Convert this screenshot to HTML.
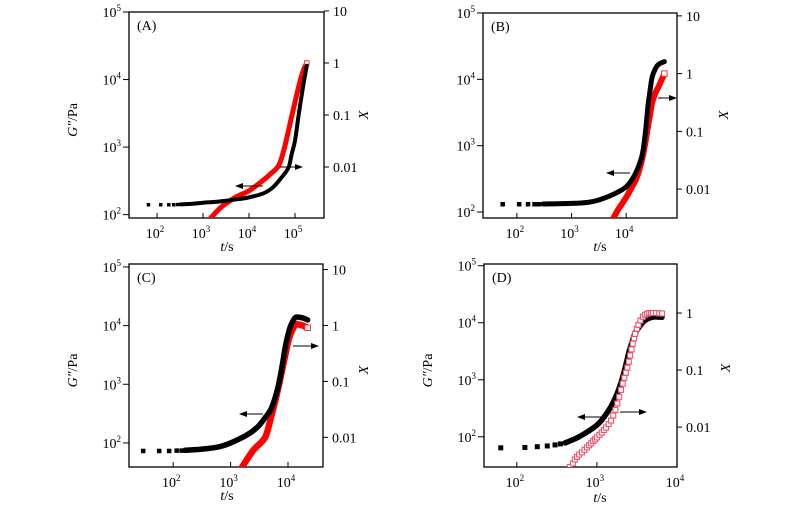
<!DOCTYPE html>
<html><head><meta charset="utf-8"><style>
html,body{margin:0;padding:0;background:#fff;}
svg{display:block;font-family:"Liberation Serif",serif;}
</style></head><body>
<svg id="fig" width="800" height="515" viewBox="0 0 800 515" xmlns="http://www.w3.org/2000/svg"></svg>
<script>
// ---- Data (t in s, G'' in Pa, X dimensionless) ----
const aBlackT = [65,120,180,230,280,330,600,1000,2000,3000,6000,10000,20000,30000,40000,50000,62000,74000,85000,100000,120000,150000,180000];
const aBlackG = [140,140,140,140,141,142,145,150,155,160,170,180,205,240,290,350,420,520,800,1250,3000,8000,16000];
const aRedT = [1400,2500,5000,10000,20000,30000,45000,60000,86000,120000,150000,180000];
const aRedX = [0.001,0.0017,0.0026,0.0035,0.0055,0.0075,0.011,0.025,0.1,0.35,0.7,1.0];

const bBlackT = [55,110,160,210,250,300,1000,2000,3000,5000,7500,10000,12500,15000,17500,20000,22500,25000,27500,30000,35000,40000,50000];
const bBlackG = [131,131,131,131,131,132,135,140,150,175,205,240,300,390,530,780,1600,3900,7000,11000,15000,17000,18500];
const bRedT = [5800,7000,10000,12500,15000,17500,20000,22500,25000,27500,30000,35000,40000,50000];
const bRedX = [0.0031,0.0043,0.0072,0.0105,0.0145,0.022,0.036,0.065,0.12,0.2,0.32,0.48,0.62,1.0];

const cBlackT = [30,57,85,115,140,160,300,600,1000,2000,3000,4000,5000,6000,7000,8000,9000,10000,11000,12500,14000,18000,22000];
const cBlackG = [73,73,73,74,74,75,78,85,100,140,190,270,370,600,1060,2200,4400,7000,9600,12500,14000,13500,12500];
const cRedT = [1600,2500,4000,5000,6000,7000,8000,9000,10000,11000,12500,14000,18000,22000];
const cRedX = [0.003,0.0059,0.01,0.022,0.045,0.089,0.17,0.3,0.5,0.69,0.92,1.05,1.0,0.91];

const dBlackT = [63,126,180,240,300,350,400,600,1000,1250,1500,1750,2000,2250,2500,2750,3000,3500,4000,5000,6500];
const dBlackG = [64,65,67,69,72,75,78,100,160,230,340,530,890,1600,3000,4600,6600,9000,11000,12600,12500];
const dRedT = [460,500,530,565,600,650,700,750,800,850,900,950,1000,1075,1150,1225,1300,1400,1500,1600,1700,1800,1900,2000,2100,2200,2300,2400,2500,2600,2700,2800,2900,3000,3150,3300,3500,3750,4000,4250,4500,4750,5000,5500,6000,6500];
const dRedX = [0.002,0.0023,0.0027,0.003,0.0033,0.0036,0.004,0.0044,0.0048,0.0052,0.0057,0.0061,0.0066,0.0073,0.008,0.0089,0.0098,0.0113,0.013,0.016,0.02,0.026,0.034,0.045,0.058,0.073,0.09,0.11,0.14,0.18,0.23,0.29,0.36,0.43,0.53,0.62,0.74,0.86,0.93,0.97,1.0,1.0,1.0,1.0,0.99,0.98];

const panelLabels = ["(A)","(B)","(C)","(D)"];

const NS = "http://www.w3.org/2000/svg";
const svg = document.getElementById("fig");
function mk(tag, attrs, parent){
  const e = document.createElementNS(NS, tag);
  for (const k in attrs) e.setAttribute(k, attrs[k]);
  (parent||svg).appendChild(e);
  return e;
}
const L = Math.log10;
function smoothPath(pts){
  if (pts.length<2) return "";
  let d = "M"+pts[0][0]+","+pts[0][1];
  for (let i=0;i<pts.length-1;i++){
    const p0=pts[Math.max(0,i-1)], p1=pts[i], p2=pts[i+1], p3=pts[Math.min(pts.length-1,i+2)];
    const c1=[p1[0]+(p2[0]-p0[0])/6, p1[1]+(p2[1]-p0[1])/6];
    const c2=[p2[0]-(p3[0]-p1[0])/6, p2[1]-(p3[1]-p1[1])/6];
    d += " C"+c1[0]+","+c1[1]+" "+c2[0]+","+c2[1]+" "+p2[0]+","+p2[1];
  }
  return d;
}

const panels = [
  {id:"a", label:panelLabels[0], box:[129,12,324,218], xr:[1.39,5.63], yl:[1.95,5.0], yr:[-2.98,0.98],
   xt:[2,3,4,5], ylt:[2,3,4,5], yrt:[-2,-1,0,1], bT:aBlackT,bG:aBlackG,rT:aRedT,rX:aRedX, ms:3.5, lw:4, dense:300, open:false,
   arrL:[[263,186],[236,186]], arrR:[[280,167],[302,167]], gl:true, xlab:[227,251], xrl:[368,115]},
  {id:"b", label:panelLabels[1], box:[483,13,677,218], xr:[1.38,4.93], yl:[1.91,5.0], yr:[-2.5,1.05],
   xt:[2,3,4], ylt:[2,3,4,5], yrt:[-2,-1,0,1], bT:bBlackT,bG:bBlackG,rT:bRedT,rX:bRedX, ms:4.5, lw:5, dense:280, open:false,
   arrL:[[630,173],[607,173]], arrR:[[658,98],[676,98]], gl:false, xlab:[600,251], xrl:[728,115]},
  {id:"c", label:panelLabels[2], box:[129,264,323,467], xr:[1.23,4.61], yl:[1.59,5.05], yr:[-2.53,1.1],
   xt:[2,3,4], ylt:[2,3,4,5], yrt:[-2,-1,0,1], bT:cBlackT,bG:cBlackG,rT:cRedT,rX:cRedX, ms:4.5, lw:5.5, dense:150, open:false,
   arrL:[[263,414],[240,414]], arrR:[[293,346],[318,346]], gl:true, xlab:[227,500], xrl:[368,370]},
  {id:"d", label:panelLabels[3], box:[484,264,677,467], xr:[1.59,4.0], yl:[1.47,5.03], yr:[-2.7,0.86],
   xt:[2,3,4], ylt:[2,3,4,5], yrt:[-2,-1,0], bT:dBlackT,bG:dBlackG,rT:dRedT,rX:dRedX, ms:5, lw:5.5, dense:380, open:true,
   arrL:[[605,417],[578,417]], arrR:[[620,412],[646,412]], gl:true, xlab:[600,502], xrl:[730,368]}
];

mk("defs",{}).innerHTML = '<marker id="ah" markerWidth="8" markerHeight="6" refX="7" refY="3" orient="auto" markerUnits="userSpaceOnUse"><path d="M0,0 L8,3 L0,6 z" fill="#000"/></marker>';

const rightLabels = {"-2":"0.01","-1":"0.1","0":"1","1":"10"};

panels.forEach(p=>{
  const [x0,y0,x1,y1] = p.box;
  const g = mk("g",{});
  
  
  const sx = lt => x0 + (lt - p.xr[0])/(p.xr[1]-p.xr[0])*(x1-x0);
  const syl = lg => y1 - (lg - p.yl[0])/(p.yl[1]-p.yl[0])*(y1-y0);
  const syr = lx => y1 - (lx - p.yr[0])/(p.yr[1]-p.yr[0])*(y1-y0);

  const cp = mk("clipPath",{id:"clip-"+p.id}, g);
  mk("rect",{x:x0,y:y0,width:x1-x0,height:y1-y0}, cp);

  const fr = mk("rect",{x:x0,y:y0,width:x1-x0,height:y1-y0,fill:"none",stroke:"#000","stroke-width":1.3}, g);
  
  

  p.xt.forEach(v=>{
    const x = sx(v);
    mk("line",{x1:x,y1:y1,x2:x,y2:y1-5,stroke:"#000","stroke-width":1}, g);
    const t = mk("text",{x:x-2,y:y1+20,"font-size":14,"text-anchor":"middle",fill:"#000"}, g);
    
    
    t.innerHTML = '10<tspan dy="-6" font-size="9">'+v+'</tspan>';
  });
  p.ylt.forEach(v=>{
    const y = syl(v);
    mk("line",{x1:x0,y1:y,x2:x0-6,y2:y,stroke:"#000","stroke-width":1}, g);
    const t = mk("text",{x:x0-8,y:y+5,"font-size":14,"text-anchor":"end",fill:"#000"}, g);
    
    
    t.innerHTML = '10<tspan dy="-6" font-size="9">'+v+'</tspan><tspan dy="6"> </tspan>';
  });
  p.yrt.forEach(v=>{
    const y = syr(v);
    mk("line",{x1:x1,y1:y,x2:x1+5,y2:y,stroke:"#000","stroke-width":1}, g);
    const t = mk("text",{x:x1+9,y:y+5,"font-size":14,fill:"#000"}, g);
    
    
    t.textContent = rightLabels[String(v)];
  });

  const pl = mk("text",{x:x0+8,y:y0+18,"font-size":14,fill:"#000"}, g);
  
  
  pl.textContent = p.label;

  const xt = mk("text",{x:p.xlab[0],y:p.xlab[1],"font-size":14,"text-anchor":"middle",fill:"#000"}, g);
  
  
  xt.innerHTML = '<tspan font-style="italic">t</tspan>/s';
  const yr = mk("text",{x:p.xrl[0],y:p.xrl[1],"font-size":14,"text-anchor":"middle",fill:"#000",transform:"rotate(-90 "+p.xrl[0]+" "+p.xrl[1]+")"}, g);
  
  
  yr.innerHTML = '<tspan font-style="italic">X</tspan>';
  if (p.gl){
    const ly = (y0+y1)/2 + 5;
    const lx = x0 - 52;
    const yl = mk("text",{x:lx,y:ly,"font-size":14,"text-anchor":"middle",fill:"#000",transform:"rotate(-90 "+lx+" "+ly+")"}, g);
    
    
    yl.innerHTML = '<tspan font-style="italic">G″</tspan>/Pa';
  }

  const plot = mk("g",{"clip-path":"url(#clip-"+p.id+")"}, g);
  const rpts = p.rT.map((t,i)=>[sx(L(t)), syr(L(p.rX[i]))]);

  function drawRedLine(){
    const rl = mk("path",{d:smoothPath(rpts),fill:"none",stroke:"#f00","stroke-width":p.lw+1,"stroke-linejoin":"round","stroke-linecap":"round"}, plot);
    
    
    const rlast = rpts[rpts.length-1];
    const rm = mk("rect",{x:rlast[0]-p.ms/2-0.5,y:rlast[1]-p.ms/2-0.5,width:p.ms+1,height:p.ms+1,fill:"#fff",stroke:"#f33","stroke-width":1}, plot);
    
    
  }
  function drawRedOpen(){
    rpts.forEach(q=>{
      const r = mk("rect",{x:q[0]-2.5,y:q[1]-2.5,width:5,height:5,fill:"#fff",stroke:"#f0506a","stroke-width":1.1}, plot);
      
      
    });
  }
  if (!p.open) drawRedLine();

  // black series G''
  const bpts = p.bT.map((t,i)=>[sx(L(t)), syl(L(p.bG[i]))]);
  const dpts = bpts.filter((q,i)=>p.bT[i]>=p.dense);
  const bl = mk("path",{d:smoothPath(dpts),fill:"none",stroke:"#000","stroke-width":p.lw,"stroke-linejoin":"round","stroke-linecap":"round"}, plot);
  
  
  bpts.forEach((q,i)=>{
    if (p.bT[i]>=p.dense) return;
    const r = mk("rect",{x:q[0]-p.ms/2,y:q[1]-p.ms/2,width:p.ms,height:p.ms,fill:"#000"}, plot);
    
    
  });

  if (p.open) drawRedOpen();

  const a1 = mk("line",{x1:p.arrL[0][0],y1:p.arrL[0][1],x2:p.arrL[1][0],y2:p.arrL[1][1],stroke:"#000","stroke-width":1,"marker-end":"url(#ah)"}, g);
  
  
  const a2 = mk("line",{x1:p.arrR[0][0],y1:p.arrR[0][1],x2:p.arrR[1][0],y2:p.arrR[1][1],stroke:"#000","stroke-width":1,"marker-end":"url(#ah)"}, g);
  
  
});
</script>
</body></html>
